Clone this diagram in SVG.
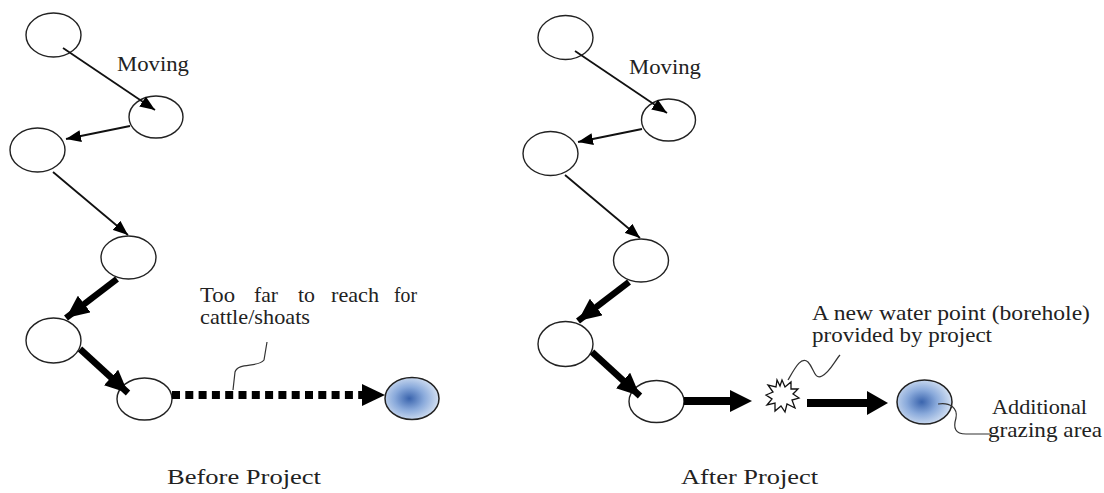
<svg xmlns="http://www.w3.org/2000/svg" width="1104" height="493" viewBox="0 0 1104 493">
<style>
.n{fill:#fff;stroke:#222;stroke-width:1.4}
.b{stroke:#222;stroke-width:1.5}
.t{font-family:"Liberation Serif","Times New Roman",Times,serif;font-size:21px;fill:#222}
.thin{stroke:#111;stroke-width:1.8;fill:none}
.thick{stroke:#000;stroke-width:6.5;fill:none}
.ah{fill:#000}
.sq{stroke:#333;stroke-width:1.2;fill:none}
</style>
<defs>
<radialGradient id="blue" cx="0.45" cy="0.5" r="0.55">
<stop offset="0" stop-color="#3a64ad"/>
<stop offset="0.5" stop-color="#8aaadb"/>
<stop offset="1" stop-color="#d3e0f2"/>
</radialGradient>
<marker id="ms" viewBox="0 0 15 12" refX="15" refY="6" markerWidth="15" markerHeight="12" markerUnits="userSpaceOnUse" orient="auto"><path d="M0,0 L15,6 L0,12 z" fill="#000"/></marker>
<marker id="mt" viewBox="0 0 23 21" refX="23" refY="10.5" markerWidth="23" markerHeight="21" markerUnits="userSpaceOnUse" orient="auto"><path d="M0,0 L23,10.5 L0,21 z" fill="#000"/></marker>
</defs>

<!-- Before Project -->
<g id="b1"><ellipse class="n" cx="53.5" cy="35" rx="27.5" ry="22"/></g>
<g id="b2"><ellipse class="n" cx="156" cy="117" rx="27" ry="21"/></g>
<g id="b3"><ellipse class="n" cx="37.5" cy="150" rx="27.5" ry="22"/></g>
<g id="b4"><ellipse class="n" cx="128.5" cy="257.5" rx="27.5" ry="21.5"/></g>
<g id="b5"><ellipse class="n" cx="53.5" cy="340.5" rx="27.5" ry="22.5"/></g>
<g id="b6"><ellipse class="n" cx="144.5" cy="399" rx="27.5" ry="21"/></g>
<g id="b7"><ellipse class="b" fill="url(#blue)" cx="412" cy="398.5" rx="27" ry="21"/></g>

<!-- After Project -->
<g id="a1"><ellipse class="n" cx="565.5" cy="37.5" rx="27.5" ry="22"/></g>
<g id="a2"><ellipse class="n" cx="668.5" cy="120" rx="27" ry="21"/></g>
<g id="a3"><ellipse class="n" cx="550.5" cy="153.5" rx="27.5" ry="22"/></g>
<g id="a4"><ellipse class="n" cx="641" cy="260.5" rx="27.5" ry="21.5"/></g>
<g id="a5"><ellipse class="n" cx="565.5" cy="344" rx="27.5" ry="22.5"/></g>
<g id="a6"><ellipse class="n" cx="656.5" cy="401.5" rx="27.5" ry="21"/></g>
<g id="a7"><polygon fill="#fff" stroke="#111" stroke-width="1.3" points="782,380 785,387 791,382 791,389 798,389 793,394 799,398 792,400 795,408 787,404 785,412 781,406 775,411 775,403 767,405 772,399 766,395 773,392 768,385 776,387 777,380 780,386"/></g>
<g id="a8"><ellipse class="b" fill="url(#blue)" cx="924.5" cy="402" rx="27.5" ry="22"/></g>

<g id="connectors">
<line class="thin" x1="63" y1="48" x2="155" y2="110" marker-end="url(#ms)"/>
<line class="thin" x1="130" y1="126" x2="66" y2="139" marker-end="url(#ms)"/>
<line class="thin" x1="53" y1="172" x2="128" y2="235" marker-end="url(#ms)"/>
<line class="thick" x1="117" y1="279" x2="66" y2="318" marker-end="url(#mt)"/>
<line class="thick" x1="80" y1="349" x2="128" y2="393" marker-end="url(#mt)"/>
<line x1="172" y1="395" x2="364" y2="395" stroke="#000" stroke-width="8" stroke-dasharray="8 5.3"/>
<polygon class="ah" points="362,384 385,395 362,406"/>

<line class="thin" x1="575" y1="51" x2="667" y2="113" marker-end="url(#ms)"/>
<line class="thin" x1="642" y1="129" x2="578" y2="142" marker-end="url(#ms)"/>
<line class="thin" x1="565" y1="175" x2="640" y2="238" marker-end="url(#ms)"/>
<line class="thick" x1="629" y1="282" x2="578" y2="321" marker-end="url(#mt)"/>
<line class="thick" x1="592" y1="352" x2="640" y2="396" marker-end="url(#mt)"/>
<line x1="684" y1="401" x2="732" y2="401" stroke="#000" stroke-width="8"/>
<polygon class="ah" points="730,390 752,401 730,412"/>
<line x1="807" y1="403" x2="869" y2="403" stroke="#000" stroke-width="8"/>
<polygon class="ah" points="867,391 888,403 867,415"/>

<path class="sq" d="M233,390 L235,372 C238,362 258,368 264,360 L267,342"/>
<path class="sq" d="M788,380 C795,368 801,356 808,362 C814,368 814,380 822,376 C830,372 834,362 840,355"/>
<path class="sq" d="M938,404 C950,402 958,408 956,418 C953,428 955,434 966,434 L990,434"/>
</g>

<text class="t" x="117" y="71" textLength="72" lengthAdjust="spacingAndGlyphs">Moving</text>
<text class="t" x="629" y="74" textLength="72" lengthAdjust="spacingAndGlyphs">Moving</text>
<text class="t" x="200" y="302" textLength="35" lengthAdjust="spacingAndGlyphs">Too</text>
<text class="t" x="254" y="302" textLength="24" lengthAdjust="spacingAndGlyphs">far</text>
<text class="t" x="298" y="302" textLength="17" lengthAdjust="spacingAndGlyphs">to</text>
<text class="t" x="331" y="302" textLength="48" lengthAdjust="spacingAndGlyphs">reach</text>
<text class="t" x="394" y="302" textLength="23" lengthAdjust="spacingAndGlyphs">for</text>
<text class="t" x="200" y="324" textLength="110" lengthAdjust="spacingAndGlyphs">cattle/shoats</text>
<text class="t" x="812" y="320" textLength="278" lengthAdjust="spacingAndGlyphs">A new water point (borehole)</text>
<text class="t" x="812" y="342" textLength="180" lengthAdjust="spacingAndGlyphs">provided by project</text>
<text class="t" x="992" y="414" textLength="95" lengthAdjust="spacingAndGlyphs">Additional</text>
<text class="t" x="988" y="437" textLength="114" lengthAdjust="spacingAndGlyphs">grazing area</text>
<text class="t" x="167" y="484" textLength="154" lengthAdjust="spacingAndGlyphs">Before Project</text>
<text class="t" x="681" y="484" textLength="137" lengthAdjust="spacingAndGlyphs">After Project</text>
</svg>
